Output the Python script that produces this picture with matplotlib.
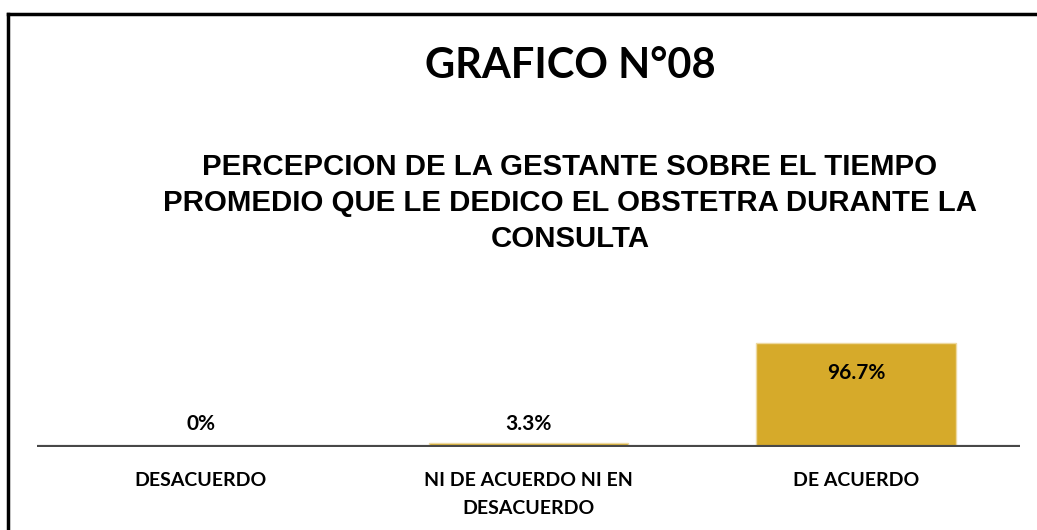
import matplotlib.pyplot as plt
from matplotlib.lines import Line2D

categories = ['DESACUERDO', 'NI DE ACUERDO NI EN\nDESACUERDO', 'DE ACUERDO']
values = [0, 3.3, 96.7]
value_labels = ['0%', '3.3%', '96.7%']

W, H = 1037, 530
fig = plt.figure(figsize=(W / 100, H / 100), dpi=100)

# axes placed in pixel coords: x 37..1020, baseline at y=447
ax = fig.add_axes([37 / W, 1 - 447 / H, 983 / W, 107.5 / H])
ax.bar(range(3), values, width=0.61, color='#D6AA2A', edgecolor='#EED9A0', linewidth=1)
ax.set_xlim(-0.5, 2.5)
ax.set_ylim(0, 100)
ax.axis('off')
ax.axhline(0, color='#484848', linewidth=3, zorder=5)

for i, (v, lab) in enumerate(zip(values, value_labels)):
    y = v - 28 if v > 50 else 21
    ax.text(i, y, lab, ha='center', va='center', fontsize=15,
            fontweight='bold', family='Lato')
    ax.text(i, -23.3, categories[i], ha='center', va='top', fontsize=14,
            fontweight='bold', family='Lato', linespacing=1.8)

fig.text(570 / W, 1 - 66 / H, 'GRAFICO N°08', ha='center', va='center',
         fontsize=30, fontweight='bold', family='Lato')
fig.text(570 / W, 1 - 203 / H,
         'PERCEPCION DE LA GESTANTE SOBRE EL TIEMPO\n'
         'PROMEDIO QUE LE DEDICO EL OBSTETRA DURANTE LA\nCONSULTA',
         ha='center', va='center', fontsize=21.2, fontweight='bold',
         family='Liberation Sans', linespacing=1.36)

# outer frame (left and top edges visible)
fig.add_artist(Line2D([8 / W, 8 / W], [0, 1 - 14 / H], color='black', lw=2.5))
fig.add_artist(Line2D([8 / W, 1], [1 - 14 / H, 1 - 14 / H], color='black', lw=2.5))

fig.savefig('out.png', dpi=100)
